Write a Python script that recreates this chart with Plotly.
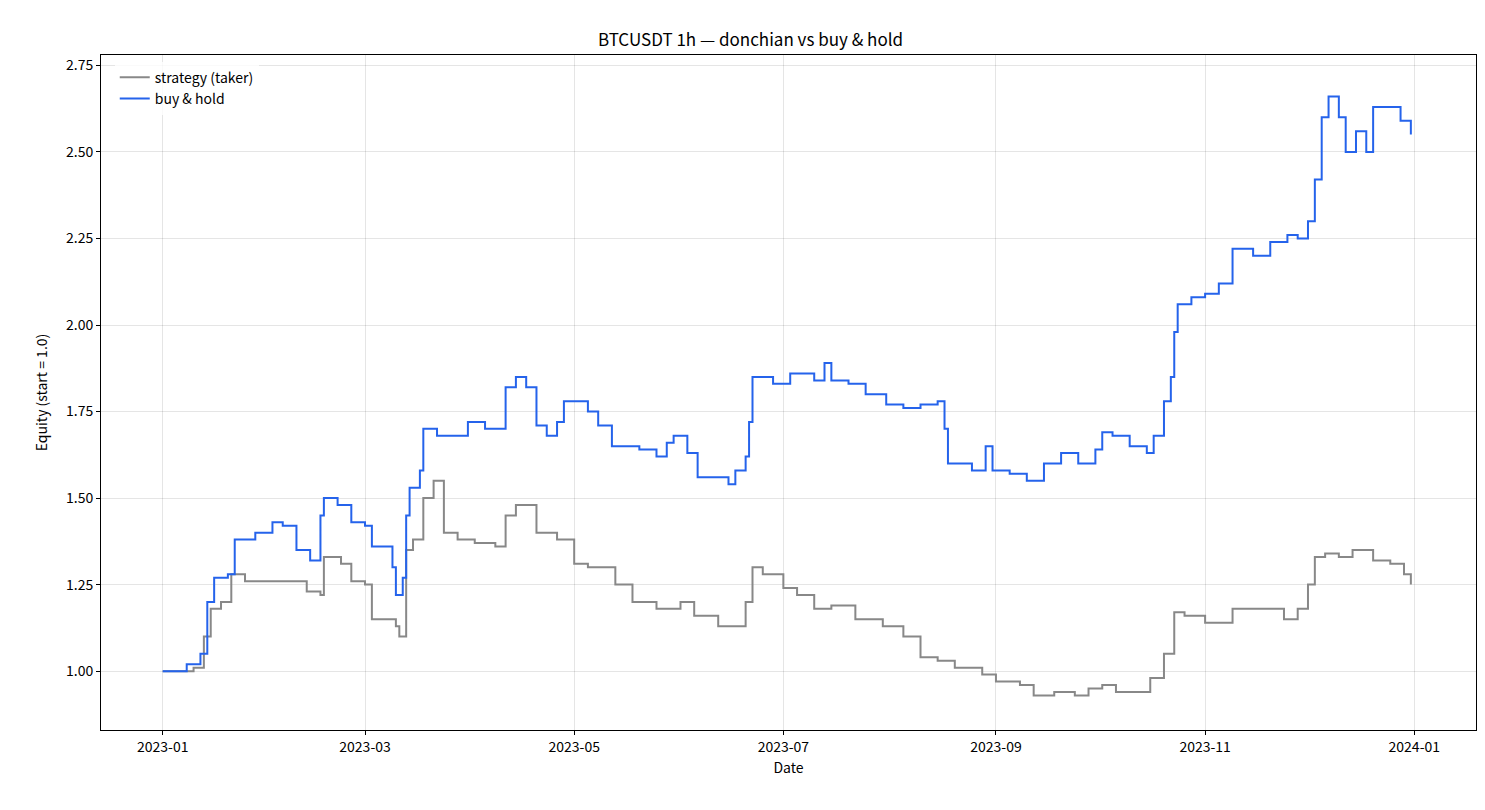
import plotly.graph_objects as go

# buy & hold equity
bh_dates = ["2023-01-01", "2023-01-08", "2023-01-12", "2023-01-14", "2023-01-16", "2023-01-20", "2023-01-22",
            "2023-01-28", "2023-02-02", "2023-02-05", "2023-02-09", "2023-02-13", "2023-02-16", "2023-02-17",
            "2023-02-21", "2023-02-25", "2023-03-01", "2023-03-03", "2023-03-09", "2023-03-10", "2023-03-12",
            "2023-03-13", "2023-03-14", "2023-03-17", "2023-03-18", "2023-03-22", "2023-03-28", "2023-03-31",
            "2023-04-05", "2023-04-10", "2023-04-11", "2023-04-14", "2023-04-17", "2023-04-20", "2023-04-23",
            "2023-04-26", "2023-04-28", "2023-05-05", "2023-05-08", "2023-05-12", "2023-05-15", "2023-05-20",
            "2023-05-25", "2023-05-28", "2023-05-30", "2023-06-03", "2023-06-06", "2023-06-10", "2023-06-15",
            "2023-06-17", "2023-06-20", "2023-06-21", "2023-06-22", "2023-06-28", "2023-07-03", "2023-07-10",
            "2023-07-13", "2023-07-15", "2023-07-20", "2023-07-25", "2023-07-31", "2023-08-05", "2023-08-10",
            "2023-08-15", "2023-08-17", "2023-08-18", "2023-08-25", "2023-08-29", "2023-08-31", "2023-09-05",
            "2023-09-10", "2023-09-15", "2023-09-20", "2023-09-25", "2023-09-30", "2023-10-02", "2023-10-05",
            "2023-10-10", "2023-10-15", "2023-10-17", "2023-10-20", "2023-10-22", "2023-10-23", "2023-10-24",
            "2023-10-28", "2023-11-01", "2023-11-05", "2023-11-09", "2023-11-12", "2023-11-15", "2023-11-20",
            "2023-11-25", "2023-11-28", "2023-12-01", "2023-12-03", "2023-12-05", "2023-12-07", "2023-12-10",
            "2023-12-12", "2023-12-15", "2023-12-18", "2023-12-20", "2023-12-25", "2023-12-28", "2023-12-31"]
bh_values = [1.00, 1.02, 1.05, 1.20, 1.27, 1.28, 1.38, 1.40, 1.43, 1.42, 1.35, 1.32, 1.45, 1.50, 1.48, 1.43,
             1.42, 1.36, 1.30, 1.22, 1.27, 1.45, 1.53, 1.58, 1.70, 1.68, 1.68, 1.72, 1.70, 1.70, 1.82, 1.85,
             1.82, 1.71, 1.68, 1.72, 1.78, 1.75, 1.71, 1.65, 1.65, 1.64, 1.62, 1.66, 1.68, 1.63, 1.56, 1.56,
             1.54, 1.58, 1.62, 1.72, 1.85, 1.83, 1.86, 1.84, 1.89, 1.84, 1.83, 1.80, 1.77, 1.76, 1.77, 1.78,
             1.70, 1.60, 1.58, 1.65, 1.58, 1.57, 1.55, 1.60, 1.63, 1.60, 1.64, 1.69, 1.68, 1.65, 1.63, 1.68,
             1.78, 1.85, 1.98, 2.06, 2.08, 2.09, 2.12, 2.22, 2.22, 2.20, 2.24, 2.26, 2.25, 2.30, 2.42, 2.60,
             2.66, 2.60, 2.50, 2.56, 2.50, 2.63, 2.63, 2.59, 2.55]

# strategy (taker) equity
st_dates = ["2023-01-01", "2023-01-10", "2023-01-13", "2023-01-15", "2023-01-18", "2023-01-21", "2023-01-25",
            "2023-02-05", "2023-02-12", "2023-02-16", "2023-02-17", "2023-02-22", "2023-02-25", "2023-03-01",
            "2023-03-03", "2023-03-10", "2023-03-11", "2023-03-13", "2023-03-15", "2023-03-18", "2023-03-21",
            "2023-03-24", "2023-03-28", "2023-04-02", "2023-04-08", "2023-04-11", "2023-04-14", "2023-04-20",
            "2023-04-26", "2023-05-01", "2023-05-05", "2023-05-10", "2023-05-13", "2023-05-18", "2023-05-25",
            "2023-06-01", "2023-06-05", "2023-06-12", "2023-06-16", "2023-06-20", "2023-06-22", "2023-06-25",
            "2023-07-01", "2023-07-05", "2023-07-10", "2023-07-15", "2023-07-22", "2023-07-30", "2023-08-05",
            "2023-08-10", "2023-08-15", "2023-08-20", "2023-08-28", "2023-09-01", "2023-09-08", "2023-09-12",
            "2023-09-18", "2023-09-24", "2023-09-28", "2023-10-02", "2023-10-06", "2023-10-14", "2023-10-16",
            "2023-10-20", "2023-10-23", "2023-10-26", "2023-11-01", "2023-11-05", "2023-11-09", "2023-11-13",
            "2023-11-18", "2023-11-24", "2023-11-28", "2023-12-01", "2023-12-03", "2023-12-06", "2023-12-10",
            "2023-12-14", "2023-12-20", "2023-12-25", "2023-12-29", "2023-12-31"]
st_values = [1.00, 1.01, 1.10, 1.18, 1.20, 1.28, 1.26, 1.26, 1.23, 1.22, 1.33, 1.31, 1.26, 1.25, 1.15, 1.13,
             1.10, 1.35, 1.38, 1.50, 1.55, 1.40, 1.38, 1.37, 1.36, 1.45, 1.48, 1.40, 1.38, 1.31, 1.30, 1.30,
             1.25, 1.20, 1.18, 1.20, 1.16, 1.13, 1.13, 1.20, 1.30, 1.28, 1.24, 1.22, 1.18, 1.19, 1.15, 1.13,
             1.10, 1.04, 1.03, 1.01, 0.99, 0.97, 0.96, 0.93, 0.94, 0.93, 0.95, 0.96, 0.94, 0.94, 0.98, 1.05,
             1.17, 1.16, 1.14, 1.14, 1.18, 1.18, 1.18, 1.15, 1.18, 1.25, 1.33, 1.34, 1.33, 1.35, 1.32, 1.31,
             1.28, 1.25]

y_ticks = [1.00, 1.25, 1.50, 1.75, 2.00, 2.25, 2.50, 2.75]
x_ticks = ["2023-01-01", "2023-03-01", "2023-05-01", "2023-07-01", "2023-09-01", "2023-11-01", "2024-01-01"]

fig = go.Figure()
fig.add_trace(go.Scatter(x=st_dates, y=st_values, mode="lines", name="strategy (taker)",
                         line=dict(color="#888888", width=2, shape="hv")))
fig.add_trace(go.Scatter(x=bh_dates, y=bh_values, mode="lines", name="buy & hold",
                         line=dict(color="#2563eb", width=2, shape="hv")))

axis_style = dict(showline=True, linecolor="black", linewidth=1, mirror=True, ticks="outside",
                  ticklen=4, tickcolor="black", showgrid=True, gridcolor="rgba(0,0,0,0.1)", zeroline=False,
                  tickfont=dict(size=14))
fig.update_layout(
    width=1485, height=810,
    font=dict(family="Noto Sans CJK KR, DejaVu Sans", size=14, color="black"),
    title=dict(text="BTCUSDT 1h — donchian vs buy & hold", x=0.5, y=0.968, font=dict(size=17)),
    plot_bgcolor="white", paper_bgcolor="white",
    margin=dict(l=93, r=17, t=47, b=88),
    legend=dict(x=0.01, y=0.99, bgcolor="rgba(255,255,255,0.8)", font=dict(size=14)),
    xaxis=dict(title=dict(text="Date", standoff=8, font=dict(size=14)), tickvals=x_ticks,
               ticktext=[d[:7] for d in x_ticks], range=["2022-12-14", "2024-01-19"], **axis_style),
    yaxis=dict(title=dict(text="Equity (start = 1.0)", font=dict(size=14)), tickvals=y_ticks,
               ticktext=[f"{v:.2f}" for v in y_ticks], range=[0.83, 2.78], **axis_style),
)
fig.write_html("out.html")
